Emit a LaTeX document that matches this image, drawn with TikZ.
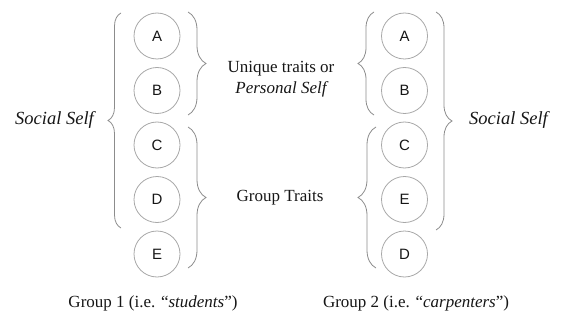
\documentclass[tikz,border=0pt]{standalone}
\usepackage{fontspec}
\setmainfont{Liberation Serif}
\newfontfamily\circfont{Liberation Sans}
\usetikzlibrary{decorations.pathreplacing}
\definecolor{circline}{HTML}{A8A8A8}
\definecolor{braceline}{HTML}{8C8C8C}
\definecolor{inktext}{HTML}{161616}
\tikzset{
  trait/.style={circle, draw=circline, line width=0.8pt, minimum size=46pt, inner sep=0pt,
    font=\circfont\fontsize{15}{15}\selectfont, text=inktext},
  bracel/.style={draw=braceline, line width=0.8pt, decorate,
    decoration={brace, amplitude=#1}},
  lbl/.style={font=\fontsize{17}{21}\selectfont, text=inktext, align=center, inner sep=0pt},
  sslbl/.style={font=\fontsize{18.5}{21}\selectfont\itshape, text=inktext, inner sep=0pt}
}
\begin{document}
\begin{tikzpicture}[x=1pt,y=1pt]
\useasboundingbox (0,0) rectangle (561,327);
% left column
\node[trait] (A1) at (157,291) {A};
\node[trait] (B1) at (157,236.5) {B};
\node[trait] (C1) at (157,182) {C};
\node[trait] (D1) at (157,127.5) {D};
\node[trait] (E1) at (157,73) {E};
% right column
\node[trait] (A2) at (404.5,291) {A};
\node[trait] (B2) at (404.5,236.5) {B};
\node[trait] (C2) at (404.5,182) {C};
\node[trait] (E2) at (404.5,127.5) {E};
\node[trait] (D2) at (404.5,73) {D};
% brace end points
\coordinate (ls1) at (121,99);  \coordinate (ls2) at (121,314);
\coordinate (lu1) at (188,315); \coordinate (lu2) at (188,212);
\coordinate (lg1) at (188,200); \coordinate (lg2) at (188,59);
\coordinate (ru1) at (374,212); \coordinate (ru2) at (374,315);
\coordinate (rg1) at (376,59);  \coordinate (rg2) at (376,200);
\coordinate (rs1) at (436,315); \coordinate (rs2) at (436,97);
\draw[bracel=13pt] (ls1) -- (ls2);
\draw[bracel=18pt] (lu1) -- (lu2);
\draw[bracel=18pt] (lg1) -- (lg2);
\draw[bracel=16pt] (ru1) -- (ru2);
\draw[bracel=18pt] (rg1) -- (rg2);
\draw[bracel=16pt] (rs1) -- (rs2);
% labels
\node[sslbl, anchor=east] (ssl) at (94,207) {Social Self};
\node[sslbl, anchor=west] (ssr) at (469,207) {Social Self};
\node[lbl] (uniq) at (281,248) {Unique traits or\\\itshape Personal Self};
\node[lbl] (grp) at (280,129) {Group Traits};
\node[lbl] (g1) at (153,24) {Group 1 (i.e. ``\textit{students}'')};
\node[lbl] (g2) at (416,24) {Group 2 (i.e. ``\textit{carpenters}'')};
\end{tikzpicture}
\end{document}
